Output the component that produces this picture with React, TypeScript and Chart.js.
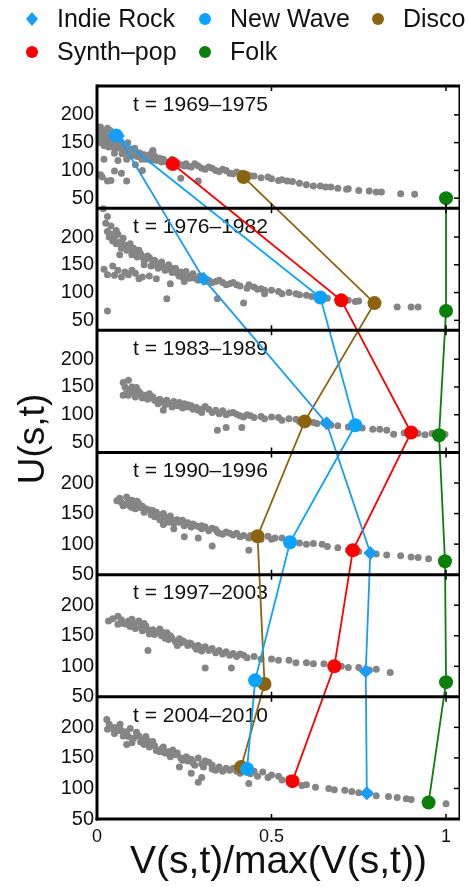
import React, { useEffect, useRef } from 'react';
import { Chart, registerables } from 'chart.js';

Chart.register(...registerables);

const FONT = '"Liberation Sans", Arial, Helvetica, sans-serif';

// ---- categories / ticks ----
const periods = ['1969–1975', '1976–1982', '1983–1989', '1990–1996', '1997–2003', '2004–2010'];
const uTicks = [50, 100, 150, 200];
const xTicks = [0, 0.5, 1];
const panelLow = [32, 32, 32, 50, 50, 50];
const panelHigh = [252, 252, 252, 250, 250, 250];

// ---- genre trajectories (V/maxV, U) per period ----
const genres = ['Indie Rock', 'New Wave', 'Disco', 'Synth–pop', 'Folk'];
const indieRockV = [0.06, 0.305, 0.658, 0.783, 0.77, 0.773];
const indieRockU = [162, 125, 84.5, 85.5, 92, 92];
const newWaveV = [0.055, 0.64, 0.74, 0.553, 0.453, 0.43];
const newWaveU = [163, 91, 81, 103, 77, 132];
const discoV = [0.42, 0.795, 0.595, 0.46, 0.48, 0.413];
const discoU = [88, 81, 88, 113, 71, 135];
const synthPopV = [0.217, 0.7, 0.9, 0.733, 0.68, 0.56];
const synthPopU = [111.5, 86, 68, 90, 100, 112];
const folkV = [1.0, 1.0, 0.98, 0.997, 1.0, 0.95];
const folkU = [50, 67, 63, 72, 74, 77];

// ---- grey song clouds [V/maxV, U] per period ----
const songs1969: [number, number][] = [
  [0.01, 178], [0.02, 172], [0.03, 176], [0.015, 165], [0.025, 158], [0.01, 150], [0.02, 145], [0.035, 160],
  [0.045, 168], [0.04, 150], [0.05, 140], [0.06, 155], [0.07, 148], [0.075, 135], [0.085, 142], [0.09, 130],
  [0.1, 138], [0.11, 128], [0.12, 132], [0.13, 125], [0.14, 120], [0.15, 128], [0.16, 135], [0.17, 118],
  [0.18, 122], [0.2, 115], [0.22, 118], [0.24, 110], [0.26, 108], [0.28, 112], [0.3, 104], [0.32, 106],
  [0.34, 100], [0.36, 102], [0.38, 95], [0.4, 97], [0.43, 92], [0.45, 90], [0.47, 87], [0.49, 88],
  [0.52, 82], [0.545, 81], [0.58, 77], [0.6, 74], [0.62, 72], [0.655, 70], [0.67, 70], [0.715, 66],
  [0.72, 67], [0.8, 61], [0.815, 61], [0.87, 58], [0.91, 57], [0.03, 81], [0.04, 82], [0.05, 99],
  [0.085, 81], [0.02, 120], [0.11, 110], [0.24, 86], [0.29, 81], [0.13, 100], [0.06, 118], [0.085, 120],
  [0.05, 131], [0.16, 136], [0.037, 148],
  [0.005, 170], [0.012, 160], [0.018, 155], [0.022, 168], [0.028, 150], [0.033, 142], [0.038, 172], [0.042, 158],
  [0.048, 152], [0.055, 146], [0.058, 162], [0.065, 140], [0.068, 152], [0.072, 130], [0.078, 145], [0.082, 138],
  [0.088, 150], [0.095, 134], [0.098, 126], [0.105, 132], [0.108, 140], [0.115, 125], [0.125, 130], [0.128, 120],
  [0.135, 128], [0.145, 124], [0.155, 118], [0.165, 126], [0.175, 122], [0.185, 115], [0.19, 120], [0.21, 112],
  [0.215, 120], [0.23, 114], [0.25, 108], [0.255, 112], [0.27, 106], [0.29, 108], [0.31, 102], [0.33, 104],
  [0.35, 98], [0.37, 100], [0.39, 94], [0.41, 95], [0.44, 90], [0.5, 85], [0.53, 83], [0.56, 80],
  [0.64, 72], [0.69, 68], [0.75, 64], [0.78, 63], [0.01, 92], [0.015, 88], [0.07, 95],
];
const songs1976: [number, number][] = [
  [0.018, 251], [0.03, 237], [0.03, 210], [0.055, 212], [0.035, 200], [0.045, 193], [0.06, 205], [0.065, 190],
  [0.075, 198], [0.08, 185], [0.09, 182], [0.1, 175], [0.11, 170], [0.12, 176], [0.13, 165], [0.14, 160],
  [0.15, 163], [0.16, 155], [0.17, 150], [0.18, 152], [0.19, 146], [0.2, 142], [0.21, 145], [0.22, 138],
  [0.23, 135], [0.24, 137], [0.25, 132], [0.26, 130], [0.27, 128], [0.28, 126], [0.3, 127], [0.32, 122],
  [0.34, 120], [0.36, 118], [0.38, 116], [0.4, 114], [0.435, 114], [0.45, 110], [0.47, 107], [0.48, 104],
  [0.5, 104], [0.52, 102], [0.55, 100], [0.57, 98], [0.6, 95], [0.615, 93], [0.66, 90], [0.69, 88],
  [0.72, 86], [0.75, 85], [0.86, 74], [0.9, 74], [0.92, 74], [0.02, 142], [0.03, 132], [0.05, 131],
  [0.08, 137], [0.1, 140], [0.12, 125], [0.15, 130], [0.21, 116], [0.2, 89], [0.03, 67], [0.345, 89],
  [0.42, 81], [0.48, 98], [0.065, 168],
  [0.04, 205], [0.05, 198], [0.055, 188], [0.07, 192], [0.07, 180], [0.085, 176], [0.095, 188], [0.1, 168],
  [0.105, 180], [0.115, 164], [0.125, 170], [0.135, 158], [0.135, 150], [0.145, 166], [0.155, 148], [0.165, 158],
  [0.175, 144], [0.185, 155], [0.195, 140], [0.205, 150], [0.215, 136], [0.225, 144], [0.235, 130], [0.245, 128],
  [0.255, 138], [0.265, 126], [0.275, 134], [0.29, 122], [0.295, 130], [0.31, 120], [0.33, 118], [0.35, 122],
  [0.37, 114], [0.39, 118], [0.41, 112], [0.43, 108], [0.46, 106], [0.53, 98], [0.58, 96], [0.64, 91],
  [0.7, 87], [0.74, 84], [0.8, 80], [0.025, 225], [0.04, 220], [0.06, 140], [0.07, 128], [0.09, 132],
  [0.11, 135], [0.13, 128], [0.17, 125], [0.25, 120], [0.045, 148],
];
const songs1983: [number, number][] = [
  [0.075, 158], [0.09, 162], [0.075, 135], [0.09, 135], [0.1, 150], [0.113, 149], [0.12, 142], [0.14, 135],
  [0.15, 138], [0.16, 132], [0.18, 128], [0.19, 108], [0.2, 126], [0.22, 124], [0.236, 122], [0.25, 120],
  [0.27, 116], [0.285, 113], [0.31, 115], [0.32, 110], [0.34, 108], [0.36, 107], [0.39, 104], [0.4, 101],
  [0.43, 100], [0.47, 97], [0.5, 96], [0.52, 95], [0.55, 93], [0.57, 92], [0.6, 90], [0.63, 84],
  [0.67, 81], [0.345, 72], [0.37, 77], [0.415, 77], [0.72, 78], [0.76, 76], [0.79, 74], [0.83, 72],
  [0.85, 65], [0.88, 67], [0.92, 66], [0.997, 65], [0.17, 125], [0.26, 118], [0.3, 110], [0.44, 98],
  [0.65, 86],
  [0.08, 150], [0.085, 140], [0.095, 145], [0.105, 140], [0.11, 132], [0.125, 138], [0.13, 130], [0.145, 128],
  [0.155, 132], [0.165, 126], [0.175, 120], [0.185, 124], [0.195, 118], [0.21, 120], [0.215, 114], [0.23, 116],
  [0.245, 112], [0.26, 114], [0.275, 110], [0.29, 108], [0.3, 104], [0.33, 104], [0.35, 102], [0.37, 100],
  [0.38, 103], [0.41, 98], [0.42, 96], [0.45, 95], [0.48, 93], [0.53, 90], [0.58, 88], [0.62, 86],
  [0.69, 80], [0.74, 77], [0.81, 74], [0.94, 64], [0.96, 66],
];
const songs1990: [number, number][] = [
  [0.057, 171], [0.07, 168], [0.085, 177], [0.1, 172], [0.12, 166], [0.13, 162], [0.14, 158], [0.16, 155],
  [0.17, 152], [0.19, 150], [0.2, 142], [0.21, 146], [0.19, 132], [0.23, 140], [0.245, 139], [0.26, 135],
  [0.28, 131], [0.29, 129], [0.31, 128], [0.33, 126], [0.35, 118], [0.37, 120], [0.39, 115], [0.4, 118],
  [0.42, 114], [0.435, 110], [0.46, 112], [0.49, 113], [0.51, 110], [0.53, 110], [0.56, 105], [0.58, 102],
  [0.62, 101], [0.645, 100], [0.69, 94], [0.75, 88], [0.78, 85], [0.83, 82], [0.87, 81], [0.95, 76],
  [0.29, 110], [0.33, 97], [0.435, 90], [0.1, 160], [0.08, 165],
  [0.065, 175], [0.075, 163], [0.09, 170], [0.095, 162], [0.105, 165], [0.11, 158], [0.115, 170], [0.125, 160],
  [0.135, 152], [0.15, 156], [0.155, 148], [0.165, 145], [0.175, 148], [0.18, 140], [0.195, 144], [0.205, 136],
  [0.215, 140], [0.22, 134], [0.235, 136], [0.25, 130], [0.255, 134], [0.27, 128], [0.275, 133], [0.3, 125],
  [0.3, 130], [0.32, 122], [0.34, 124], [0.345, 120], [0.36, 116], [0.38, 118], [0.41, 112], [0.44, 114],
  [0.47, 108], [0.5, 108], [0.55, 104], [0.6, 100], [0.66, 96], [0.72, 90], [0.8, 84], [0.9, 79],
  [0.92, 78], [0.22, 125], [0.25, 112],
];
const songs1997: [number, number][] = [
  [0.033, 174], [0.06, 182], [0.06, 169], [0.085, 169], [0.1, 177], [0.12, 174], [0.14, 166], [0.146, 126],
  [0.15, 153], [0.16, 160], [0.18, 161], [0.2, 155], [0.21, 150], [0.23, 134], [0.236, 145], [0.25, 140],
  [0.27, 137], [0.29, 134], [0.31, 97], [0.31, 132], [0.33, 129], [0.35, 126], [0.37, 124], [0.385, 97],
  [0.39, 121], [0.42, 118], [0.45, 116], [0.5, 112], [0.55, 110], [0.6, 106], [0.65, 104], [0.7, 100],
  [0.75, 98], [0.8, 95],
  [0.045, 178], [0.07, 176], [0.075, 170], [0.09, 174], [0.095, 165], [0.105, 170], [0.11, 162], [0.125, 166],
  [0.13, 158], [0.135, 170], [0.145, 160], [0.155, 158], [0.165, 152], [0.17, 156], [0.185, 150], [0.19, 155],
  [0.195, 146], [0.205, 144], [0.215, 146], [0.225, 140], [0.24, 138], [0.245, 142], [0.26, 134], [0.265, 138],
  [0.28, 132], [0.285, 128], [0.3, 130], [0.3, 125], [0.32, 126], [0.34, 122], [0.36, 120], [0.38, 118],
  [0.4, 116], [0.41, 120], [0.43, 114], [0.47, 112], [0.52, 110], [0.57, 106], [0.62, 104], [0.67, 101],
  [0.72, 98], [0.78, 94], [0.84, 90],
];
const songs2004: [number, number][] = [
  [0.028, 213], [0.03, 197], [0.066, 205], [0.085, 193], [0.085, 172], [0.1, 175], [0.113, 192], [0.13, 180],
  [0.14, 185], [0.16, 177], [0.18, 160], [0.19, 168], [0.217, 163], [0.23, 158], [0.236, 135], [0.256, 152],
  [0.27, 148], [0.29, 150], [0.29, 110], [0.31, 145], [0.32, 143], [0.35, 135], [0.38, 130], [0.39, 133],
  [0.42, 130], [0.435, 108], [0.45, 128], [0.475, 127], [0.5, 122], [0.52, 120], [0.55, 116], [0.587, 105],
  [0.626, 102], [0.664, 100], [0.71, 97], [0.75, 93], [0.8, 88], [0.835, 87], [0.886, 83], [1.0, 75],
  [0.05, 200], [0.06, 195], [0.2, 158], [0.33, 138],
  [0.035, 205], [0.045, 198], [0.05, 190], [0.07, 195], [0.075, 186], [0.09, 185], [0.095, 198], [0.105, 182],
  [0.12, 186], [0.125, 176], [0.135, 172], [0.145, 178], [0.15, 168], [0.165, 170], [0.17, 162], [0.185, 165],
  [0.195, 158], [0.205, 160], [0.21, 152], [0.225, 155], [0.24, 150], [0.245, 146], [0.26, 145], [0.275, 142],
  [0.28, 138], [0.3, 140], [0.305, 135], [0.33, 132], [0.34, 130], [0.36, 128], [0.37, 133], [0.4, 128],
  [0.41, 125], [0.44, 124], [0.46, 120], [0.49, 118], [0.53, 114], [0.57, 110], [0.6, 106], [0.68, 98],
  [0.73, 95], [0.78, 92], [0.86, 85], [0.9, 82], [0.27, 125], [0.3, 118],
];
const songPanels = [songs1969, songs1976, songs1983, songs1990, songs1997, songs2004];

// ---- styles ----
const genreColors = ['#1a9cf5', '#0aa3ff', '#8c6410', '#ff0000', '#0a7f0a'];
const genreStyles = ['rectRot', 'circle', 'circle', 'circle', 'circle'];
const greyColor = '#858585';

function toVirtual(panel: number, u: number) {
  return 5 - panel + (u - panelLow[panel]) / (panelHigh[panel] - panelLow[panel]);
}

const yTickValues: number[] = [];
const yTickLabels: string[] = [];
periods.forEach((_, k) => {
  uTicks.forEach((u) => {
    yTickValues.push(toVirtual(k, u));
    yTickLabels.push(String(u));
  });
});

const framePlugin = {
  id: 'frame',
  beforeDatasetsDraw(chart: any) {
    const { ctx, chartArea } = chart;
    const ys = chart.scales.y;
    ctx.save();
    ctx.fillStyle = '#111';
    ctx.font = `21px ${FONT}`;
    ctx.textAlign = 'left';
    ctx.textBaseline = 'middle';
    periods.forEach((p, k) => {
      const top = ys.getPixelForValue(6 - k);
      ctx.fillText(`t = ${p}`, chartArea.left + 36, top + 19);
    });
    ctx.restore();
  },
  afterDatasetsDraw(chart: any) {
    const { ctx, chartArea } = chart;
    const xs = chart.scales.x;
    const ys = chart.scales.y;
    const { left, right, top, bottom } = chartArea;
    ctx.save();
    ctx.strokeStyle = '#000';
    ctx.lineCap = 'butt';
    ctx.lineWidth = 1.5;
    for (let k = 0; k < 6; k++) {
      const pt = ys.getPixelForValue(6 - k);
      const pb = ys.getPixelForValue(5 - k);
      [0.5, 1].forEach((v) => {
        const px = xs.getPixelForValue(v);
        ctx.beginPath();
        ctx.moveTo(px, pt);
        ctx.lineTo(px, pt + 5);
        ctx.moveTo(px, pb);
        ctx.lineTo(px, pb - 5);
        ctx.stroke();
      });
      uTicks.forEach((u) => {
        const py = ys.getPixelForValue(toVirtual(k, u));
        ctx.beginPath();
        ctx.moveTo(right, py);
        ctx.lineTo(right - 6, py);
        ctx.stroke();
      });
    }
    ctx.lineWidth = 3;
    for (let k = 0; k < 6; k++) {
      const py = ys.getPixelForValue(6 - k);
      ctx.beginPath();
      ctx.moveTo(left, py);
      ctx.lineTo(right, py);
      ctx.stroke();
    }
    ctx.beginPath();
    ctx.moveTo(left - 1.5, bottom);
    ctx.lineTo(right, bottom);
    ctx.stroke();
    ctx.beginPath();
    ctx.moveTo(left, top - 1.5);
    ctx.lineTo(left, bottom + 1.5);
    ctx.stroke();
    ctx.lineWidth = 1.5;
    ctx.beginPath();
    ctx.moveTo(right - 0.75, top);
    ctx.lineTo(right - 0.75, bottom);
    ctx.stroke();
    ctx.restore();
  },
  afterDraw(chart: any) {
    const { ctx } = chart;
    ctx.save();
    ctx.fillStyle = '#111';
    ctx.font = `37px ${FONT}`;
    ctx.textAlign = 'center';
    ctx.textBaseline = 'middle';
    ctx.translate(34, 439);
    ctx.rotate(-Math.PI / 2);
    ctx.fillText('U(s,t)', 0, 0);
    ctx.restore();

    ctx.save();
    ctx.font = `25px ${FONT}`;
    ctx.textAlign = 'left';
    ctx.textBaseline = 'middle';
    genres.forEach((g, i) => {
      const col = i < 3 ? i : i - 3;
      const row = i < 3 ? 0 : 1;
      const mx = 32 + col * 173;
      const my = row === 0 ? 19 : 52;
      ctx.fillStyle = genreColors[i];
      ctx.beginPath();
      if (genreStyles[i] === 'rectRot') {
        ctx.moveTo(mx, my - 7);
        ctx.lineTo(mx + 6, my);
        ctx.lineTo(mx, my + 7);
        ctx.lineTo(mx - 6, my);
        ctx.closePath();
      } else {
        ctx.arc(mx, my, 6, 0, Math.PI * 2);
      }
      ctx.fill();
      ctx.fillStyle = '#111';
      ctx.fillText(g, mx + 25, my + 1);
    });
    ctx.restore();
  },
};

export default function App() {
  const ref = useRef<HTMLCanvasElement | null>(null);
  useEffect(() => {
    if (!ref.current) return;
    const seriesV = [indieRockV, newWaveV, discoV, synthPopV, folkV];
    const seriesU = [indieRockU, newWaveU, discoU, synthPopU, folkU];
    const trajDatasets = genres.map((g, i) => ({
      label: g,
      data: seriesV[i].map((v, k) => ({ x: v, y: toVirtual(k, seriesU[i][k]) })),
      showLine: true,
      borderColor: genreColors[i],
      backgroundColor: genreColors[i],
      borderWidth: 1.8,
      pointRadius: 7,
      pointStyle: genreStyles[i],
      pointBorderWidth: 0,
      order: i + 1,
    }));
    const greyDatasets = songPanels.map((pts, k) => ({
      label: `songs ${periods[k]}`,
      data: pts.map(([v, u]) => ({ x: v, y: toVirtual(k, u) })),
      showLine: false,
      backgroundColor: greyColor,
      borderColor: greyColor,
      pointRadius: 3.5,
      pointBorderWidth: 0,
      order: 20,
    }));
    const chart = new Chart(ref.current, {
      type: 'scatter',
      data: { datasets: [...trajDatasets, ...greyDatasets] as any },
      plugins: [framePlugin],
      options: {
        animation: false,
        responsive: false,
        maintainAspectRatio: false,
        layout: { padding: { top: 86, right: 5, left: 0, bottom: 0 } },
        plugins: { legend: { display: false }, tooltip: { enabled: false } },
        scales: {
          x: {
            type: 'linear',
            min: 0,
            max: 1.04,
            afterFit: (s: any) => { s.height = 68; },
            afterBuildTicks: (s: any) => { s.ticks = xTicks.map((v) => ({ value: v })); },
            ticks: {
              font: { family: FONT, size: 18 },
              color: '#111',
              padding: 7,
              maxRotation: 0,
              autoSkip: false,
              callback: (v: any) => String(v),
            },
            grid: { display: false, drawTicks: false },
            border: { display: false },
            title: {
              display: true,
              text: 'V(s,t)/max(V(s,t))',
              font: { family: FONT, size: 39 },
              color: '#111',
              padding: { top: 0, bottom: 1 },
            },
          },
          y: {
            type: 'linear',
            min: 0,
            max: 6,
            afterFit: (s: any) => { s.width = 97; },
            afterBuildTicks: (s: any) => { s.ticks = yTickValues.map((v) => ({ value: v })); },
            ticks: {
              font: { family: FONT, size: 20 },
              color: '#111',
              padding: 3,
              autoSkip: false,
              callback: (_v: any, i: number) => yTickLabels[i],
            },
            grid: { display: false, drawTicks: false },
            border: { display: false },
          },
        },
      } as any,
    });
    return () => chart.destroy();
  }, []);
  return (
    <div style={{ position: 'fixed', left: 0, top: 0, width: 467, height: 887, background: '#fff' }}>
      <canvas ref={ref} width={467} height={887} style={{ display: 'block' }} />
    </div>
  );
}
